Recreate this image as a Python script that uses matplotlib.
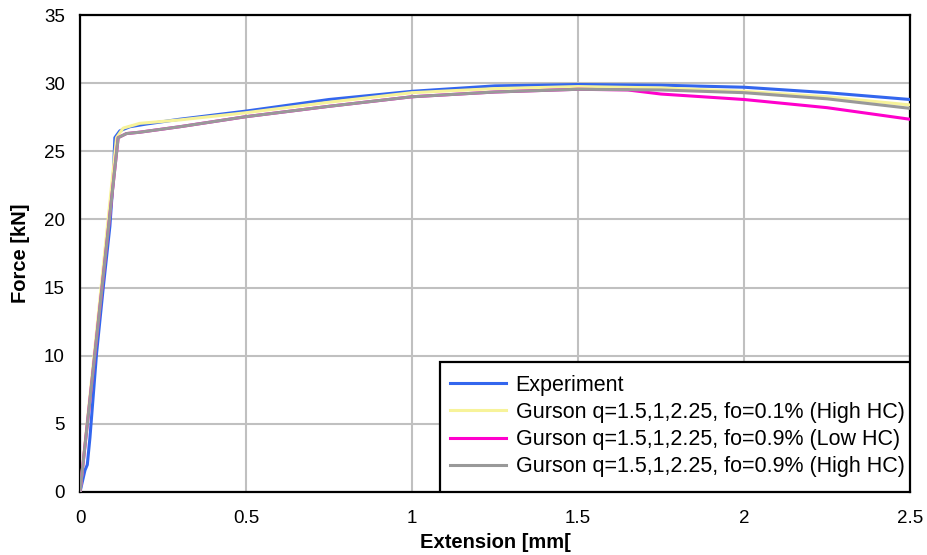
import matplotlib
matplotlib.use('Agg')
import matplotlib.pyplot as plt
from matplotlib.patches import Rectangle

plt.rcParams['font.family'] = ['Liberation Sans', 'DejaVu Sans']

# Experiment
exp_x = [0, 0.015, 0.022, 0.03, 0.05, 0.07, 0.09, 0.1, 0.105, 0.12, 0.15, 0.2, 0.3, 0.5,
         0.75, 1.0, 1.25, 1.5, 1.75, 2.0, 2.25, 2.5]
exp_y = [0, 1.6, 2.0, 4.0, 10.2, 15.0, 19.5, 23.0, 26.0, 26.5, 26.8, 27.0, 27.35, 27.95,
         28.8, 29.4, 29.8, 29.9, 29.85, 29.7, 29.3, 28.8]

# Gurson fo=0.1% (High HC)
g1_x = [0, 0.11, 0.13, 0.18, 0.3, 0.5, 0.75, 1.0, 1.25, 1.5, 1.75, 2.0, 2.25, 2.5]
g1_y = [0, 26.0, 26.7, 27.05, 27.3, 27.83, 28.6, 29.3, 29.6, 29.75, 29.65, 29.4, 29.0, 28.4]

# Gurson fo=0.9% (Low HC)
g2_x = [0, 0.115, 0.14, 0.18, 0.3, 0.5, 0.75, 1.0, 1.25, 1.5, 1.65, 1.75, 2.0, 2.25, 2.5]
g2_y = [0, 26.0, 26.3, 26.4, 26.8, 27.54, 28.3, 29.0, 29.35, 29.55, 29.5, 29.2, 28.8, 28.2, 27.35]

# Gurson fo=0.9% (High HC)
g3_x = [0, 0.115, 0.14, 0.18, 0.3, 0.5, 0.75, 1.0, 1.25, 1.5, 1.75, 2.0, 2.25, 2.5]
g3_y = [0, 26.0, 26.3, 26.4, 26.8, 27.54, 28.3, 29.0, 29.35, 29.55, 29.5, 29.3, 28.85, 28.15]

labels = ['Experiment',
          'Gurson q=1.5,1,2.25, fo=0.1% (High HC)',
          'Gurson q=1.5,1,2.25, fo=0.9% (Low HC)',
          'Gurson q=1.5,1,2.25, fo=0.9% (High HC)']
colors = ['#3366ee', '#f7f39a', '#ff00cc', '#999999']

fig = plt.figure(figsize=(9.27, 5.55), dpi=100)
ax = fig.add_axes([80 / 927, 63 / 555, 830 / 927, 477 / 555])

ax.plot(exp_x, exp_y, color=colors[0], lw=2.2, label=labels[0], zorder=3)
ax.plot(g1_x, g1_y, color=colors[1], lw=2.2, label=labels[1], zorder=4)
ax.plot(g2_x, g2_y, color=colors[2], lw=2.2, label=labels[2], zorder=5)
ax.plot(g3_x, g3_y, color=colors[3], lw=2.2, label=labels[3], zorder=6)

ax.set_xlim(0, 2.5)
ax.set_ylim(0, 35)
ax.set_xticks([0, 0.5, 1, 1.5, 2, 2.5])
ax.set_xticklabels(['0', '0.5', '1', '1.5', '2', '2.5'])
ax.set_yticks(range(0, 36, 5))
ax.grid(True, color='#c0c0c0', lw=1.5)
ax.set_axisbelow(True)
ax.tick_params(axis='both', length=0, labelsize=13.5)
ax.tick_params(axis='x', pad=13)
ax.tick_params(axis='y', pad=11)
for s in ax.spines.values():
    s.set_linewidth(1.6)
    s.set_color('black')

ax.set_xlabel('Extension [mm[', fontsize=14.5, fontweight='bold', labelpad=4)
ax.set_ylabel('Force [kN]', fontsize=14.5, fontweight='bold', labelpad=10)

# legend box
box = Rectangle(((440 - 80) / 830, 0), (910 - 440) / 830, 130 / 477,
                transform=ax.transAxes, facecolor='white', edgecolor='black',
                lw=1.6, zorder=7)
ax.add_patch(box)
leg = ax.legend(loc='upper left', bbox_to_anchor=((450 - 80) / 830, (492 - 375) / 477),
                frameon=False, fontsize=15.5, handlelength=2.6, handletextpad=0.45,
                labelspacing=0.28, borderaxespad=0, borderpad=0.0)
leg.set_zorder(8)

fig.savefig('out.png', dpi=100)
